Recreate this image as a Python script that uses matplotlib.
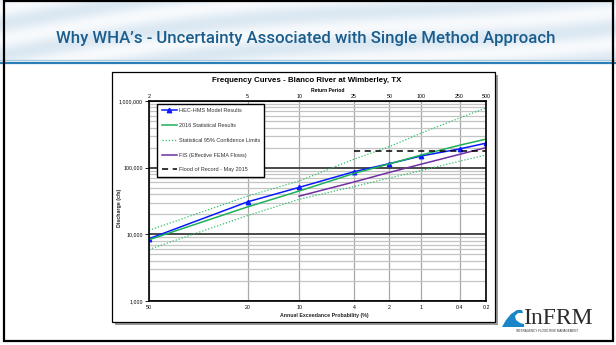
import matplotlib
matplotlib.use("Agg")
import matplotlib.pyplot as plt
import numpy as np
from statistics import NormalDist
from matplotlib.patches import Rectangle, Polygon

# annual exceedance probability (%) and matching return periods
aep = [50, 20, 10, 4, 2, 1, 0.4, 0.2]
aep_labels = ["50", "20", "10", "4", "2", "1", "0.4", "0.2"]
return_labels = ["2", "5", "10", "25", "50", "100", "250", "500"]

# discharge (cfs)
hms = [8600, 30700, 50600, 87000, 115000, 150000, 191000, 233000]
stat2016 = [8300, 25800, 44600, 82000, 114000, 155000, 217000, 268000]
upper95 = [11500, 37400, 63000, 134000, 207000, 330000, 556000, 787000]
lower95 = [5950, 19100, 33500, 52000, 70000, 90600, 125000, 155000]

fis_aep = [10, 4, 2, 1, 0.2]
fis = [37400, 61000, 85000, 113000, 200000]

record_aep = [4, 0.2]
record_flow = [175000, 175000]

y_ticks = [1000, 10000, 100000, 1000000]
y_labels = ["1,000", "10,000", "100,000", "1,000,000"]

SANS = ["Liberation Sans", "DejaVu Sans"]
plt.rcParams["font.family"] = SANS


def zx(p):
    """normal probability position for an exceedance probability in %"""
    nd = NormalDist()
    return [nd.inv_cdf(1 - v / 100.0) for v in p]


W, H = 616, 345
fig = plt.figure(figsize=(W / 100, H / 100), dpi=100)
fig.patch.set_facecolor("white")

# slide background layer in pixel coordinates
bg = fig.add_axes([0, 0, 1, 1])
bg.set_xlim(0, W)
bg.set_ylim(H, 0)
bg.axis("off")

xx, yy = np.meshgrid(np.arange(W), np.arange(60))
wave = np.sin(xx / 45.0 + yy / 5.0 + 1.8 * np.sin(xx / 130.0))
t = (0.5 + 0.5 * wave)[..., None]
base = np.array([0.86, 0.91, 0.95])
img = t * np.array([0.97, 0.98, 0.99]) + (1 - t) * base
bg.imshow(img, extent=[0, W, 60, 0], aspect="auto", zorder=0)

title = bg.text(306, 38, "Why WHA\u2019s - Uncertainty Associated with Single Method Approach",
                ha="center", va="center", fontsize=12.4, color="#1b5e8e",
                fontweight="medium", family=["Roboto", "Liberation Sans", "DejaVu Sans"])
# fit the slide title to the width it has on the slide
r = fig.canvas.get_renderer()
tw = title.get_window_extent(r).width
title.set_fontsize(12.4 * 498.0 / tw)

bg.plot([0, W], [60, 60], color="#a9cbe0", lw=1.0, zorder=2)
bg.plot([0, W], [62.5, 62.5], color="#2a7db5", lw=1.6, zorder=2)

# chart box with shadow
bg.add_patch(Rectangle((114.5, 74.5), 383, 250, fc="#9a9a9a", ec="none", zorder=1))
bg.add_patch(Rectangle((112, 72), 383, 250, fc="white", ec="black", lw=0.9, zorder=1))

# logo
bg.add_patch(Polygon([(502, 327), (506, 320), (511, 314), (517, 310), (522, 310),
                      (523, 313), (518, 313), (515, 316), (516, 320), (520, 323),
                      (524, 324), (524, 327)], closed=True, fc="#1a86c8", ec="none"))
bg.text(558, 318, "InFRM", ha="center", va="center", fontsize=17,
        family=["Liberation Serif", "DejaVu Serif"], color="#2b2b2b")
bg.text(547, 331, "INTERAGENCY FLOOD RISK MANAGEMENT", ha="center", va="center",
        fontsize=2.2, color="#333333")

# slide border
bg.add_patch(Rectangle((3.5, 1), 609, 340, fill=False, ec="black", lw=1.6, zorder=5))

# chart titles
bg.text(306.5, 81, "Frequency Curves - Blanco River at Wimberley, TX", ha="center",
        va="center", fontsize=5.7, fontweight="bold")
bg.text(328, 90, "Return Period", ha="center", va="center", fontsize=3.6, fontweight="bold")
bg.text(324, 316, "Annual Exceedance Probability (%)", ha="center", va="center",
        fontsize=3.8, fontweight="bold", color="#222222")
bg.text(119, 208, "Discharge (cfs)", ha="center", va="center", rotation=90,
        fontsize=3.8, fontweight="bold", color="#222222")

# main plot
ax = fig.add_axes([149 / W, 1 - 301 / H, (486 - 149) / W, 200 / H])
ax.set_yscale("log")
ax.set_ylim(1000, 1000000)
ax.set_xlim(0, zx([0.2])[0])

ax.set_yticks(y_ticks, y_labels)
ax.set_yticks([m * 10 ** k for k in range(3, 6) for m in range(2, 10)], minor=True)
ax.set_xticks(zx(aep), aep_labels)
ax.grid(which="minor", axis="y", color="#c4c4c4", lw=0.9)
ax.grid(which="major", axis="y", color="#3a3a3a", lw=1.3)
ax.grid(which="major", axis="x", color="#a8a8a8", lw=0.9)
ax.tick_params(which="minor", length=0)
ax.tick_params(axis="y", labelsize=3.8, length=3, width=0.6, pad=1.5)
ax.tick_params(axis="x", labelsize=3.8, length=0, pad=3)
ax.set_axisbelow(True)
for s in ax.spines.values():
    s.set_linewidth(1.2)
    s.set_color("black")

top = ax.secondary_xaxis("top")
top.set_xticks(zx(aep), return_labels)
top.tick_params(labelsize=3.8, length=0, pad=1.5)

ax.plot(zx(aep), hms, color="#0a1aff", lw=1.1, marker="^", ms=3.2,
        label="HEC-HMS Model Results")
ax.plot(zx(aep), stat2016, color="#1fb05a", lw=1.1, label="2016 Statistical Results")
ax.plot(zx(aep), upper95, color="#2fc06a", lw=0.9, ls=(0, (1, 1.5)),
        label="Statistical 95% Confidence Limits")
ax.plot(zx(aep), lower95, color="#2fc06a", lw=0.9, ls=(0, (1, 1.5)))
ax.plot(zx(fis_aep), fis, color="#7030a0", lw=1.1, label="FIS (Effective FEMA Flows)")
ax.plot(zx(record_aep), record_flow, color="black", lw=1.1, ls=(0, (4, 3)),
        label="Flood of Record - May 2015")

leg = ax.legend(loc="upper left", bbox_to_anchor=(0.024, 0.985), fontsize=4.0,
                frameon=True, fancybox=False, framealpha=1, edgecolor="black",
                labelspacing=1.75, handlelength=2.8, handletextpad=0.3,
                borderpad=0.8, borderaxespad=0)
leg.get_frame().set_linewidth(1.0)
for txt in leg.get_texts():
    txt.set_color("#333333")

fig.savefig("out.png", dpi=100)
